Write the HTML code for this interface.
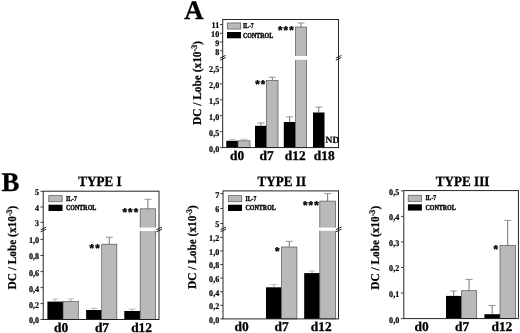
<!DOCTYPE html>
<html><head><meta charset="utf-8"><title>Figure</title>
<style>
html,body{margin:0;padding:0;background:#fff;}
body{width:520px;height:333px;overflow:hidden;}
svg{display:block;}
svg text{font-family:"Liberation Serif","DejaVu Serif",serif;font-weight:bold;fill:#000;text-rendering:geometricPrecision;}
</style></head><body>
<svg width="520" height="333" viewBox="0 0 520 333">
<rect width="520" height="333" fill="#fff"/>
<rect x="226.30" y="140.80" width="11.70" height="6.80" fill="#000"/>
<path d="M232.15 140.80V139.30" stroke="#8f8f8f" stroke-width="0.85" fill="none"/><path d="M228.65 139.30H235.65" stroke="#b4b4b4" stroke-width="0.8" fill="none"/>
<rect x="238.00" y="140.80" width="12.00" height="6.80" fill="#b9b9b9" stroke="#555" stroke-width="0.7"/>
<path d="M244.00 140.80V139.30" stroke="#8f8f8f" stroke-width="0.85" fill="none"/><path d="M240.50 139.30H247.50" stroke="#b4b4b4" stroke-width="0.8" fill="none"/>
<rect x="255.00" y="125.80" width="11.80" height="21.80" fill="#000"/>
<path d="M260.90 125.80V123.00" stroke="#5c5c5c" stroke-width="0.85" fill="none"/><path d="M257.40 123.00H264.40" stroke="#7c7c7c" stroke-width="0.8" fill="none"/>
<rect x="266.60" y="80.40" width="11.40" height="67.20" fill="#b9b9b9" stroke="#555" stroke-width="0.7"/>
<path d="M272.30 80.40V77.20" stroke="#5c5c5c" stroke-width="0.85" fill="none"/><path d="M268.80 77.20H275.80" stroke="#7c7c7c" stroke-width="0.8" fill="none"/>
<rect x="283.80" y="122.00" width="11.70" height="25.60" fill="#000"/>
<path d="M289.65 122.00V116.80" stroke="#5c5c5c" stroke-width="0.85" fill="none"/><path d="M286.15 116.80H293.15" stroke="#7c7c7c" stroke-width="0.8" fill="none"/>
<rect x="295.50" y="27.00" width="11.10" height="120.60" fill="#b9b9b9" stroke="#555" stroke-width="0.7"/>
<path d="M301.05 27.00V23.00" stroke="#5c5c5c" stroke-width="0.85" fill="none"/><path d="M297.55 23.00H304.55" stroke="#7c7c7c" stroke-width="0.8" fill="none"/>
<rect x="313.00" y="112.50" width="11.50" height="35.10" fill="#000"/>
<path d="M318.75 112.50V107.00" stroke="#5c5c5c" stroke-width="0.85" fill="none"/><path d="M315.25 107.00H322.25" stroke="#7c7c7c" stroke-width="0.8" fill="none"/>
<rect x="294.50" y="56.00" width="13.10" height="3.8" fill="#fff"/>
<rect x="222.70" y="19.50" width="115.75" height="128.10" fill="none" stroke="#1a1a1a" stroke-width="0.95"/>
<path d="M219.90 147.60H222.70" stroke="#222" stroke-width="0.85"/>
<text transform="translate(219.20 151.50) scale(0.93 1)" font-size="8.7" text-anchor="end" stroke="#000" stroke-width="0.22">0,0</text>
<path d="M219.90 131.70H222.70" stroke="#222" stroke-width="0.85"/>
<text transform="translate(219.20 135.60) scale(0.93 1)" font-size="8.7" text-anchor="end" stroke="#000" stroke-width="0.22">0,5</text>
<path d="M219.90 115.70H222.70" stroke="#222" stroke-width="0.85"/>
<text transform="translate(219.20 119.60) scale(0.93 1)" font-size="8.7" text-anchor="end" stroke="#000" stroke-width="0.22">1,0</text>
<path d="M219.90 99.80H222.70" stroke="#222" stroke-width="0.85"/>
<text transform="translate(219.20 103.70) scale(0.93 1)" font-size="8.7" text-anchor="end" stroke="#000" stroke-width="0.22">1,5</text>
<path d="M219.90 83.80H222.70" stroke="#222" stroke-width="0.85"/>
<text transform="translate(219.20 87.70) scale(0.93 1)" font-size="8.7" text-anchor="end" stroke="#000" stroke-width="0.22">2,0</text>
<path d="M219.90 67.70H222.70" stroke="#222" stroke-width="0.85"/>
<text transform="translate(219.20 71.60) scale(0.93 1)" font-size="8.7" text-anchor="end" stroke="#000" stroke-width="0.22">2,5</text>
<path d="M219.90 50.80H222.70" stroke="#222" stroke-width="0.85"/>
<text transform="translate(219.20 54.70) scale(0.93 1)" font-size="8.7" text-anchor="end" stroke="#000" stroke-width="0.22">8</text>
<path d="M219.90 42.00H222.70" stroke="#222" stroke-width="0.85"/>
<text transform="translate(219.20 45.90) scale(0.93 1)" font-size="8.7" text-anchor="end" stroke="#000" stroke-width="0.22">9</text>
<path d="M219.90 33.30H222.70" stroke="#222" stroke-width="0.85"/>
<text transform="translate(219.20 37.20) scale(0.93 1)" font-size="8.7" text-anchor="end" stroke="#000" stroke-width="0.22">10</text>
<path d="M219.90 24.50H222.70" stroke="#222" stroke-width="0.85"/>
<text transform="translate(219.20 28.40) scale(0.93 1)" font-size="8.7" text-anchor="end" stroke="#000" stroke-width="0.22">11</text>
<path d="M220.10 58.10L225.70 55.40M220.10 60.20L225.70 57.50" stroke="#111" stroke-width="0.9" fill="none"/>
<path d="M335.85 58.10L341.45 55.40M335.85 60.20L341.45 57.50" stroke="#111" stroke-width="0.9" fill="none"/>
<text x="237.10" y="159.90" font-size="13.4" text-anchor="middle" stroke="#000" stroke-width="0.3">d0</text>
<text x="266.70" y="159.90" font-size="13.4" text-anchor="middle" stroke="#000" stroke-width="0.3">d7</text>
<text x="295.20" y="159.90" font-size="13.4" text-anchor="middle" stroke="#000" stroke-width="0.3">d12</text>
<text x="324.20" y="159.90" font-size="13.4" text-anchor="middle" stroke="#000" stroke-width="0.3">d18</text>
<rect x="227.30" y="22.95" width="13.4" height="6.1" fill="#b9b9b9" stroke="#555" stroke-width="0.7"/>
<rect x="227.00" y="32.00" width="14" height="6.3" fill="#000"/>
<text transform="translate(242.90 28.10) scale(0.78 1)" font-size="7.3" stroke="#000" stroke-width="0.35">IL-7</text>
<text transform="translate(242.90 37.50) scale(0.79 1)" font-size="7.6" stroke="#000" stroke-width="0.4">CONTROL</text>
<text transform="translate(200.80 124.90) rotate(-90) scale(0.945 1)" font-size="12" stroke="#000" stroke-width="0.22">DC / Lobe (x10<tspan dy="-4.2" font-size="8.5">-3</tspan><tspan dy="4.2">)</tspan></text>
<text x="255.20" y="87.80" font-size="11.5" letter-spacing="1.2" style="font-family:'Liberation Sans',sans-serif" stroke="#000" stroke-width="0.4">**</text>
<text x="277.90" y="34.20" font-size="11.5" letter-spacing="1.2" style="font-family:'Liberation Sans',sans-serif" stroke="#000" stroke-width="0.4">***</text>
<text x="325.60" y="142.90" font-size="9.5" text-anchor="start"  stroke="#000" stroke-width="0.22">ND</text><text x="184.20" y="19.10" font-size="26.8" text-anchor="start" stroke="#000" stroke-width="0.35">A</text>
<rect x="47.40" y="301.60" width="15.70" height="17.90" fill="#000"/>
<path d="M55.25 301.60V299.00" stroke="#8f8f8f" stroke-width="0.85" fill="none"/><path d="M51.75 299.00H58.75" stroke="#b4b4b4" stroke-width="0.8" fill="none"/>
<rect x="63.10" y="301.50" width="15.20" height="18.00" fill="#b9b9b9" stroke="#555" stroke-width="0.7"/>
<path d="M70.70 301.50V298.90" stroke="#8f8f8f" stroke-width="0.85" fill="none"/><path d="M67.20 298.90H74.20" stroke="#b4b4b4" stroke-width="0.8" fill="none"/>
<rect x="86.10" y="310.00" width="15.60" height="9.50" fill="#000"/>
<path d="M93.90 310.00V308.20" stroke="#8f8f8f" stroke-width="0.85" fill="none"/><path d="M90.40 308.20H97.40" stroke="#b4b4b4" stroke-width="0.8" fill="none"/>
<rect x="101.70" y="244.20" width="15.10" height="75.30" fill="#b9b9b9" stroke="#555" stroke-width="0.7"/>
<path d="M109.25 244.20V237.20" stroke="#5c5c5c" stroke-width="0.85" fill="none"/><path d="M105.75 237.20H112.75" stroke="#7c7c7c" stroke-width="0.8" fill="none"/>
<rect x="124.30" y="311.00" width="15.90" height="8.50" fill="#000"/>
<path d="M132.25 311.00V309.00" stroke="#8f8f8f" stroke-width="0.85" fill="none"/><path d="M128.75 309.00H135.75" stroke="#b4b4b4" stroke-width="0.8" fill="none"/>
<rect x="140.20" y="208.80" width="15.40" height="110.70" fill="#b9b9b9" stroke="#555" stroke-width="0.7"/>
<path d="M147.90 208.80V199.30" stroke="#5c5c5c" stroke-width="0.85" fill="none"/><path d="M144.40 199.30H151.40" stroke="#7c7c7c" stroke-width="0.8" fill="none"/>
<rect x="139.20" y="227.60" width="17.40" height="3.4" fill="#fff"/>
<rect x="43.20" y="191.20" width="115.80" height="128.30" fill="none" stroke="#1a1a1a" stroke-width="0.95"/>
<path d="M40.40 319.50H43.20" stroke="#222" stroke-width="0.85"/>
<text transform="translate(39.00 323.40) scale(0.93 1)" font-size="8.7" text-anchor="end" stroke="#000" stroke-width="0.22">0,0</text>
<path d="M40.40 303.60H43.20" stroke="#222" stroke-width="0.85"/>
<text transform="translate(39.00 307.50) scale(0.93 1)" font-size="8.7" text-anchor="end" stroke="#000" stroke-width="0.22">0,2</text>
<path d="M40.40 287.60H43.20" stroke="#222" stroke-width="0.85"/>
<text transform="translate(39.00 291.50) scale(0.93 1)" font-size="8.7" text-anchor="end" stroke="#000" stroke-width="0.22">0,4</text>
<path d="M40.40 271.60H43.20" stroke="#222" stroke-width="0.85"/>
<text transform="translate(39.00 275.50) scale(0.93 1)" font-size="8.7" text-anchor="end" stroke="#000" stroke-width="0.22">0,6</text>
<path d="M40.40 255.50H43.20" stroke="#222" stroke-width="0.85"/>
<text transform="translate(39.00 259.40) scale(0.93 1)" font-size="8.7" text-anchor="end" stroke="#000" stroke-width="0.22">0,8</text>
<path d="M40.40 239.40H43.20" stroke="#222" stroke-width="0.85"/>
<text transform="translate(39.00 243.30) scale(0.93 1)" font-size="8.7" text-anchor="end" stroke="#000" stroke-width="0.22">1,0</text>
<path d="M40.40 222.30H43.20" stroke="#222" stroke-width="0.85"/>
<text transform="translate(39.00 226.20) scale(0.93 1)" font-size="8.7" text-anchor="end" stroke="#000" stroke-width="0.22">3</text>
<path d="M40.40 207.00H43.20" stroke="#222" stroke-width="0.85"/>
<text transform="translate(39.00 210.90) scale(0.93 1)" font-size="8.7" text-anchor="end" stroke="#000" stroke-width="0.22">4</text>
<path d="M40.40 191.30H43.20" stroke="#222" stroke-width="0.85"/>
<text transform="translate(39.00 195.20) scale(0.93 1)" font-size="8.7" text-anchor="end" stroke="#000" stroke-width="0.22">5</text>
<path d="M40.60 229.80L46.20 227.10M40.60 231.90L46.20 229.20" stroke="#111" stroke-width="0.9" fill="none"/>
<path d="M156.40 229.80L162.00 227.10M156.40 231.90L162.00 229.20" stroke="#111" stroke-width="0.9" fill="none"/>
<text x="61.20" y="331.80" font-size="13.4" text-anchor="middle" stroke="#000" stroke-width="0.3">d0</text>
<text x="102.00" y="331.80" font-size="13.4" text-anchor="middle" stroke="#000" stroke-width="0.3">d7</text>
<text x="141.60" y="331.80" font-size="13.4" text-anchor="middle" stroke="#000" stroke-width="0.3">d12</text>
<rect x="48.80" y="195.65" width="13.4" height="6.1" fill="#b9b9b9" stroke="#555" stroke-width="0.7"/>
<rect x="48.50" y="204.70" width="14" height="6.3" fill="#000"/>
<text transform="translate(66.00 200.80) scale(0.78 1)" font-size="7.3" stroke="#000" stroke-width="0.35">IL-7</text>
<text transform="translate(66.00 210.20) scale(0.79 1)" font-size="7.6" stroke="#000" stroke-width="0.4">CONTROL</text>
<text transform="translate(100.00 186.40) scale(0.925 1)" font-size="14.2" text-anchor="middle" stroke="#000" stroke-width="0.3">TYPE I</text>
<text transform="translate(15.70 289.50) rotate(-90) scale(0.945 1)" font-size="12" stroke="#000" stroke-width="0.22">DC / Lobe (x10<tspan dy="-4.2" font-size="8.5">-3</tspan><tspan dy="4.2">)</tspan></text>
<text x="89.50" y="252.00" font-size="11.5" letter-spacing="1.2" style="font-family:'Liberation Sans',sans-serif" stroke="#000" stroke-width="0.4">**</text>
<text x="122.40" y="215.90" font-size="11.5" letter-spacing="1.2" style="font-family:'Liberation Sans',sans-serif" stroke="#000" stroke-width="0.4">***</text>
<text x="1.40" y="191.00" font-size="26.8" text-anchor="start" stroke="#000" stroke-width="0.35">B</text>
<rect x="266.00" y="287.30" width="15.60" height="31.60" fill="#000"/>
<path d="M273.80 287.30V284.60" stroke="#8f8f8f" stroke-width="0.85" fill="none"/><path d="M270.30 284.60H277.30" stroke="#b4b4b4" stroke-width="0.8" fill="none"/>
<rect x="281.60" y="247.00" width="15.30" height="71.90" fill="#b9b9b9" stroke="#555" stroke-width="0.7"/>
<path d="M289.25 247.00V241.30" stroke="#5c5c5c" stroke-width="0.85" fill="none"/><path d="M285.75 241.30H292.75" stroke="#7c7c7c" stroke-width="0.8" fill="none"/>
<rect x="304.20" y="273.10" width="15.60" height="45.80" fill="#000"/>
<path d="M312.00 273.10V270.90" stroke="#8f8f8f" stroke-width="0.85" fill="none"/><path d="M308.50 270.90H315.50" stroke="#b4b4b4" stroke-width="0.8" fill="none"/>
<rect x="319.80" y="201.10" width="15.70" height="117.80" fill="#b9b9b9" stroke="#555" stroke-width="0.7"/>
<path d="M327.65 201.10V193.70" stroke="#5c5c5c" stroke-width="0.85" fill="none"/><path d="M324.15 193.70H331.15" stroke="#7c7c7c" stroke-width="0.8" fill="none"/>
<rect x="318.80" y="227.60" width="17.70" height="3.2" fill="#fff"/>
<rect x="223.00" y="190.90" width="115.50" height="128.00" fill="none" stroke="#1a1a1a" stroke-width="0.95"/>
<path d="M220.20 318.90H223.00" stroke="#222" stroke-width="0.85"/>
<text transform="translate(219.20 322.80) scale(0.93 1)" font-size="8.7" text-anchor="end" stroke="#000" stroke-width="0.22">0,0</text>
<path d="M220.20 305.30H223.00" stroke="#222" stroke-width="0.85"/>
<text transform="translate(219.20 309.20) scale(0.93 1)" font-size="8.7" text-anchor="end" stroke="#000" stroke-width="0.22">0,2</text>
<path d="M220.20 291.70H223.00" stroke="#222" stroke-width="0.85"/>
<text transform="translate(219.20 295.60) scale(0.93 1)" font-size="8.7" text-anchor="end" stroke="#000" stroke-width="0.22">0,4</text>
<path d="M220.20 278.10H223.00" stroke="#222" stroke-width="0.85"/>
<text transform="translate(219.20 282.00) scale(0.93 1)" font-size="8.7" text-anchor="end" stroke="#000" stroke-width="0.22">0,6</text>
<path d="M220.20 264.50H223.00" stroke="#222" stroke-width="0.85"/>
<text transform="translate(219.20 268.40) scale(0.93 1)" font-size="8.7" text-anchor="end" stroke="#000" stroke-width="0.22">0,8</text>
<path d="M220.20 250.90H223.00" stroke="#222" stroke-width="0.85"/>
<text transform="translate(219.20 254.80) scale(0.93 1)" font-size="8.7" text-anchor="end" stroke="#000" stroke-width="0.22">1,0</text>
<path d="M220.20 237.30H223.00" stroke="#222" stroke-width="0.85"/>
<text transform="translate(219.20 241.20) scale(0.93 1)" font-size="8.7" text-anchor="end" stroke="#000" stroke-width="0.22">1,2</text>
<path d="M220.20 223.50H223.00" stroke="#222" stroke-width="0.85"/>
<text transform="translate(219.20 227.40) scale(0.93 1)" font-size="8.7" text-anchor="end" stroke="#000" stroke-width="0.22">5</text>
<path d="M220.20 208.50H223.00" stroke="#222" stroke-width="0.85"/>
<text transform="translate(219.20 212.40) scale(0.93 1)" font-size="8.7" text-anchor="end" stroke="#000" stroke-width="0.22">6</text>
<path d="M220.20 193.60H223.00" stroke="#222" stroke-width="0.85"/>
<text transform="translate(219.20 197.50) scale(0.93 1)" font-size="8.7" text-anchor="end" stroke="#000" stroke-width="0.22">7</text>
<path d="M220.40 229.70L226.00 227.00M220.40 231.80L226.00 229.10" stroke="#111" stroke-width="0.9" fill="none"/>
<path d="M335.90 229.70L341.50 227.00M335.90 231.80L341.50 229.10" stroke="#111" stroke-width="0.9" fill="none"/>
<text x="241.70" y="331.20" font-size="13.4" text-anchor="middle" stroke="#000" stroke-width="0.3">d0</text>
<text x="281.70" y="331.20" font-size="13.4" text-anchor="middle" stroke="#000" stroke-width="0.3">d7</text>
<text x="321.20" y="331.20" font-size="13.4" text-anchor="middle" stroke="#000" stroke-width="0.3">d12</text>
<rect x="228.30" y="195.65" width="13.4" height="6.1" fill="#b9b9b9" stroke="#555" stroke-width="0.7"/>
<rect x="228.00" y="204.70" width="14" height="6.3" fill="#000"/>
<text transform="translate(245.50 200.80) scale(0.78 1)" font-size="7.3" stroke="#000" stroke-width="0.35">IL-7</text>
<text transform="translate(245.50 210.20) scale(0.79 1)" font-size="7.6" stroke="#000" stroke-width="0.4">CONTROL</text>
<text transform="translate(281.80 186.40) scale(0.925 1)" font-size="14.2" text-anchor="middle" stroke="#000" stroke-width="0.3">TYPE II</text>
<text transform="translate(195.80 289.00) rotate(-90) scale(0.945 1)" font-size="12" stroke="#000" stroke-width="0.22">DC / Lobe (x10<tspan dy="-4.2" font-size="8.5">-3</tspan><tspan dy="4.2">)</tspan></text>
<text x="274.90" y="254.50" font-size="11.5" letter-spacing="1.2" style="font-family:'Liberation Sans',sans-serif" stroke="#000" stroke-width="0.4">*</text>
<text x="302.90" y="208.80" font-size="11.5" letter-spacing="1.2" style="font-family:'Liberation Sans',sans-serif" stroke="#000" stroke-width="0.4">***</text>

<rect x="446.00" y="295.90" width="15.40" height="22.70" fill="#000"/>
<path d="M453.70 295.90V291.00" stroke="#5c5c5c" stroke-width="0.85" fill="none"/><path d="M450.20 291.00H457.20" stroke="#7c7c7c" stroke-width="0.8" fill="none"/>
<rect x="461.40" y="290.70" width="15.30" height="27.90" fill="#b9b9b9" stroke="#555" stroke-width="0.7"/>
<path d="M469.05 290.70V279.40" stroke="#5c5c5c" stroke-width="0.85" fill="none"/><path d="M465.55 279.40H472.55" stroke="#7c7c7c" stroke-width="0.8" fill="none"/>
<rect x="484.40" y="314.20" width="15.60" height="4.40" fill="#000"/>
<path d="M492.20 314.20V305.50" stroke="#5c5c5c" stroke-width="0.85" fill="none"/><path d="M488.70 305.50H495.70" stroke="#7c7c7c" stroke-width="0.8" fill="none"/>
<rect x="500.00" y="245.30" width="15.40" height="73.30" fill="#b9b9b9" stroke="#555" stroke-width="0.7"/>
<path d="M507.70 245.30V220.40" stroke="#5c5c5c" stroke-width="0.85" fill="none"/><path d="M504.20 220.40H511.20" stroke="#7c7c7c" stroke-width="0.8" fill="none"/>
<rect x="403.80" y="190.60" width="114.60" height="128.00" fill="none" stroke="#1a1a1a" stroke-width="0.95"/>
<path d="M401.00 318.60H403.80" stroke="#222" stroke-width="0.85"/>
<text transform="translate(399.20 322.50) scale(0.93 1)" font-size="8.7" text-anchor="end" stroke="#000" stroke-width="0.22">0,0</text>
<path d="M401.00 293.00H403.80" stroke="#222" stroke-width="0.85"/>
<text transform="translate(399.20 296.90) scale(0.93 1)" font-size="8.7" text-anchor="end" stroke="#000" stroke-width="0.22">0,1</text>
<path d="M401.00 267.50H403.80" stroke="#222" stroke-width="0.85"/>
<text transform="translate(399.20 271.40) scale(0.93 1)" font-size="8.7" text-anchor="end" stroke="#000" stroke-width="0.22">0,2</text>
<path d="M401.00 241.90H403.80" stroke="#222" stroke-width="0.85"/>
<text transform="translate(399.20 245.80) scale(0.93 1)" font-size="8.7" text-anchor="end" stroke="#000" stroke-width="0.22">0,3</text>
<path d="M401.00 216.40H403.80" stroke="#222" stroke-width="0.85"/>
<text transform="translate(399.20 220.30) scale(0.93 1)" font-size="8.7" text-anchor="end" stroke="#000" stroke-width="0.22">0,4</text>
<path d="M401.00 190.90H403.80" stroke="#222" stroke-width="0.85"/>
<text transform="translate(399.20 194.80) scale(0.93 1)" font-size="8.7" text-anchor="end" stroke="#000" stroke-width="0.22">0,5</text>
<text x="421.70" y="330.90" font-size="13.4" text-anchor="middle" stroke="#000" stroke-width="0.3">d0</text>
<text x="462.20" y="330.90" font-size="13.4" text-anchor="middle" stroke="#000" stroke-width="0.3">d7</text>
<text x="501.90" y="330.90" font-size="13.4" text-anchor="middle" stroke="#000" stroke-width="0.3">d12</text>
<rect x="408.20" y="195.25" width="13.4" height="6.1" fill="#b9b9b9" stroke="#555" stroke-width="0.7"/>
<rect x="407.90" y="204.30" width="14" height="6.3" fill="#000"/>
<text transform="translate(425.40 200.40) scale(0.78 1)" font-size="7.3" stroke="#000" stroke-width="0.35">IL-7</text>
<text transform="translate(425.40 209.80) scale(0.79 1)" font-size="7.6" stroke="#000" stroke-width="0.4">CONTROL</text>
<text transform="translate(462.60 186.00) scale(0.925 1)" font-size="14.2" text-anchor="middle" stroke="#000" stroke-width="0.3">TYPE III</text>
<text transform="translate(378.70 289.70) rotate(-90) scale(0.945 1)" font-size="12" stroke="#000" stroke-width="0.22">DC / Lobe (x10<tspan dy="-4.2" font-size="8.5">-3</tspan><tspan dy="4.2">)</tspan></text>
<text x="493.50" y="252.80" font-size="11.5" letter-spacing="1.2" style="font-family:'Liberation Sans',sans-serif" stroke="#000" stroke-width="0.4">*</text>

</svg>
</body></html>
